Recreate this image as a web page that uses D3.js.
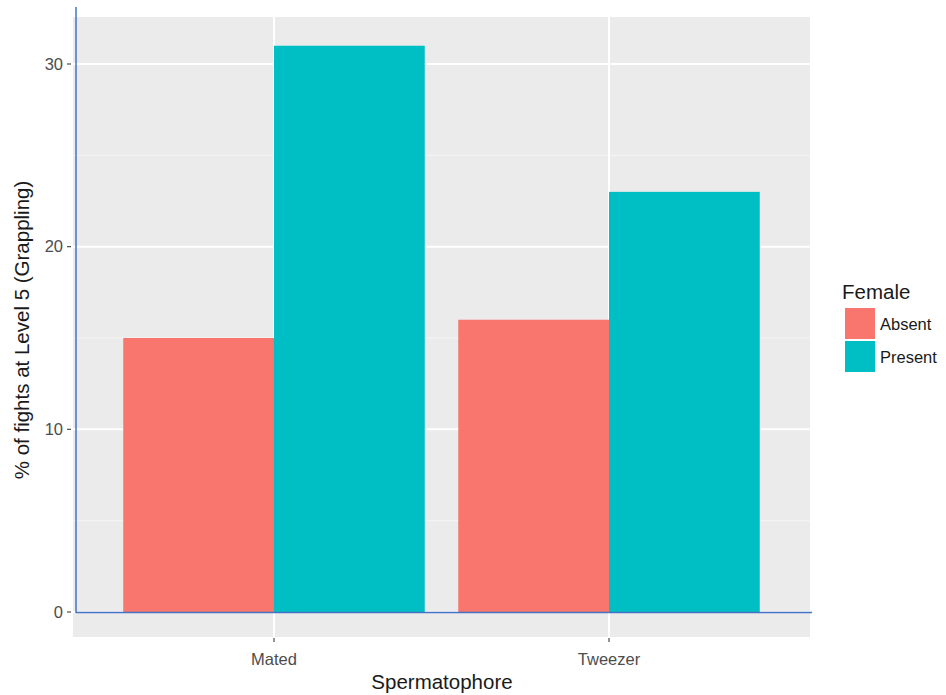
<!DOCTYPE html>
<html><head><meta charset="utf-8">
<script src="https://cdn.jsdelivr.net/npm/d3@7"></script>
<style>body{margin:0;background:#fff}svg{display:block}</style>
</head><body>
<svg id="c" width="946" height="695"></svg>
<script>
const categories = ["Mated", "Tweezer"];
const groups = ["Absent", "Present"];
const absentValues = [15, 16];
const presentValues = [31, 23];
const yTicks = [0, 10, 20, 30];
const yMinor = [5, 15, 25];
const colors = ["#F8766D", "#00BFC4"];

const data = categories.map((c, i) => ({cat: c, vals: [absentValues[i], presentValues[i]]}));
const FONT = "Arial, 'Liberation Sans', sans-serif";

const svg = d3.select("#c");
const panel = {x0: 73, x1: 810, y0: 17, y1: 637};

// ggplot-like discrete positions: categories at 1,2 within [0.4, 2.6]
const xc = d3.scaleLinear().domain([0.4, 2.6]).range([panel.x0, panel.x1]);
const y = d3.scaleLinear().domain([0, 30]).range([612, 64]);

svg.append("rect").attr("x", panel.x0).attr("y", panel.y0)
  .attr("width", panel.x1 - panel.x0).attr("height", panel.y1 - panel.y0).attr("fill", "#EBEBEB");

svg.selectAll(".minor").data(yMinor).enter().append("line")
  .attr("x1", panel.x0).attr("x2", panel.x1)
  .attr("y1", d => y(d)).attr("y2", d => y(d))
  .attr("stroke", "#F5F5F5").attr("stroke-width", 1);
svg.selectAll(".major").data(yTicks).enter().append("line")
  .attr("x1", panel.x0).attr("x2", panel.x1)
  .attr("y1", d => y(d)).attr("y2", d => y(d))
  .attr("stroke", "#FFFFFF").attr("stroke-width", 2);
svg.selectAll(".vmajor").data(categories).enter().append("line")
  .attr("x1", (d, i) => xc(i + 1)).attr("x2", (d, i) => xc(i + 1))
  .attr("y1", panel.y0).attr("y2", panel.y1)
  .attr("stroke", "#FFFFFF").attr("stroke-width", 2);

const bw = xc(1.45) - xc(1);
data.forEach((d, i) => {
  d.vals.forEach((v, j) => {
    svg.append("rect")
      .attr("x", xc(i + 1) - bw + j * bw)
      .attr("y", y(v))
      .attr("width", bw)
      .attr("height", y(0) - y(v))
      .attr("fill", colors[j]);
  });
});

const yg = svg.append("g");
yTicks.forEach(t => {
  yg.append("line").attr("x1", 67).attr("x2", 71).attr("y1", y(t)).attr("y2", y(t))
    .attr("stroke", "#4d4d4d").attr("stroke-width", 1.2);
  yg.append("text").attr("x", 63).attr("y", y(t)).attr("dy", "0.35em")
    .attr("text-anchor", "end").attr("font-family", FONT)
    .attr("font-size", 16.5).attr("fill", "#4d4d4d").text(t);
});
categories.forEach((c, i) => {
  svg.append("line").attr("x1", xc(i + 1)).attr("x2", xc(i + 1)).attr("y1", 638).attr("y2", 642)
    .attr("stroke", "#4d4d4d").attr("stroke-width", 1.2);
  svg.append("text").attr("x", xc(i + 1)).attr("y", 665)
    .attr("text-anchor", "middle").attr("font-family", FONT)
    .attr("font-size", 16.5).attr("fill", "#4d4d4d").text(c);
});

svg.append("line").attr("x1", 76).attr("x2", 76).attr("y1", 7).attr("y2", 613)
  .attr("stroke", "#4472C4").attr("stroke-width", 1.5);
svg.append("line").attr("x1", 76).attr("x2", 812).attr("y1", 612.5).attr("y2", 612.5)
  .attr("stroke", "#4472C4").attr("stroke-width", 1.5);

svg.append("text").attr("x", 442).attr("y", 689).attr("text-anchor", "middle")
  .attr("font-family", FONT).attr("font-size", 20.5).attr("fill", "#1a1a1a")
  .text("Spermatophore");
svg.append("text").attr("transform", "translate(29,330) rotate(-90)").attr("text-anchor", "middle")
  .attr("font-family", FONT).attr("font-size", 20.5).attr("fill", "#1a1a1a")
  .text("% of fights at Level 5 (Grappling)");

const lg = svg.append("g");
lg.append("text").attr("x", 842).attr("y", 299).attr("font-family", FONT)
  .attr("font-size", 20.5).attr("fill", "#1a1a1a").text("Female");
groups.forEach((g, j) => {
  lg.append("rect").attr("x", 845).attr("y", 308 + j * 33).attr("width", 30).attr("height", 31)
    .attr("fill", colors[j]);
  lg.append("text").attr("x", 880).attr("y", 324 + j * 33).attr("dy", "0.35em")
    .attr("font-family", FONT).attr("font-size", 16.5).attr("fill", "#1a1a1a")
    .text(g);
});
</script>
</body></html>
